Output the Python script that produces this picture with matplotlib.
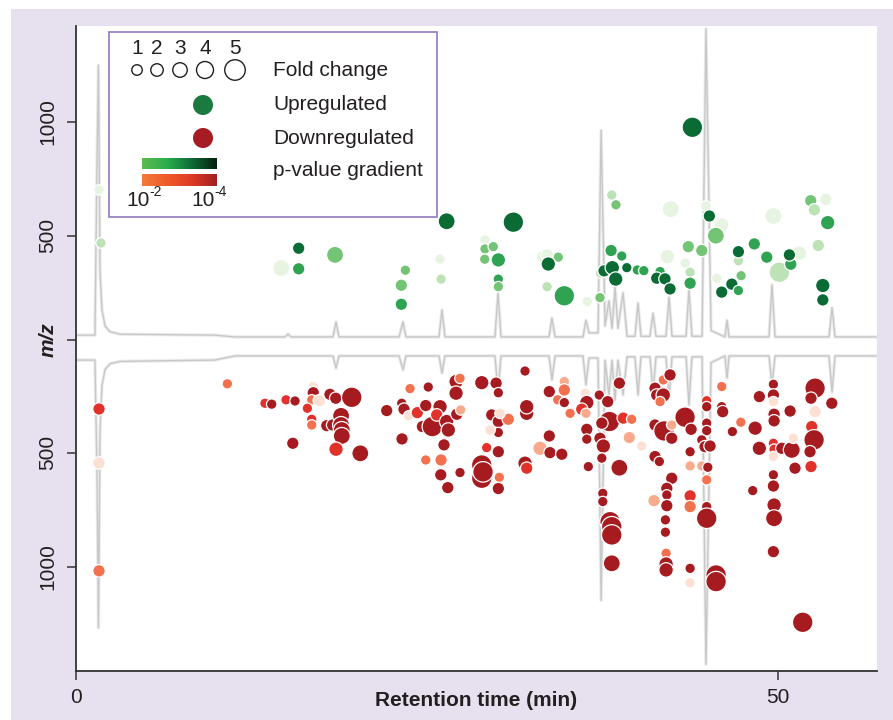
import numpy as np
import matplotlib.pyplot as plt
from matplotlib.patches import Rectangle, Circle
from matplotlib.colors import LinearSegmentedColormap

plt.rcParams['font.family'] = ['Liberation Sans', 'DejaVu Sans']

# chromatogram traces (shared time axis), top = positive, bottom = mirrored
trace_t = [0.07, 1.35, 1.50, 1.60, 1.71, 1.85, 2.07, 2.42, 3.13, 9.88, 11.32, 14.89, 15.10, 15.31,
           18.30, 18.52, 18.73, 23.01, 23.29, 23.50, 25.85, 26.07, 26.28, 29.84, 30.06, 30.27,
           33.69, 33.90, 34.12, 36.11, 36.32, 36.54, 37.18, 37.40, 37.68, 37.96, 38.18, 38.39,
           38.60, 38.96, 39.25, 39.81, 40.03, 40.24, 40.88, 41.10, 41.31, 42.02, 42.24, 42.45,
           43.45, 43.66, 43.87, 44.59, 44.87, 45.23, 46.22, 46.37, 46.51, 49.36, 49.57, 49.79,
           53.63, 53.85, 54.06, 56.98]
trace_top = [20, 20, 800, 1200, 300, 130, 60, 35, 24, 20, 12, 12, 25, 12,
             12, 78, 12, 12, 78, 12, 12, 130, 12, 12, 205, 12,
             12, 95, 12, 12, 85, 30, 30, 915, 60, 170, 50, 230,
             50, 205, 15, 15, 160, 15, 15, 115, 15, 15, 185, 15,
             15, 220, 15, 15, 1360, 40, 12, 85, 12, 12, 240, 12,
             12, 140, 12, 12]
trace_bot = [89, 89, 600, 1260, 400, 200, 130, 105, 95, 89, 71, 71, 71, 71,
             71, 124, 71, 71, 132, 71, 71, 146, 71, 71, 229, 71,
             71, 176, 71, 71, 198, 80, 80, 1140, 90, 242, 90, 264,
             90, 242, 75, 75, 242, 75, 75, 229, 75, 75, 255, 75,
             75, 286, 75, 75, 1420, 100, 71, 168, 71, 71, 198, 71,
             71, 229, 71, 71]

# upregulated features: retention time, m/z, fold change, p-value class (0 weak .. 4 strong)
up_t = [1.64, 1.78, 15.86, 15.86, 14.62, 18.45, 23.46, 23.17, 23.17, 25.93,
        26.00, 26.40, 31.15, 29.13, 29.13, 29.72, 29.11, 30.08, 30.08, 30.08,
        33.24, 33.55, 34.35, 33.64, 33.55, 34.78, 36.42, 37.32, 38.16, 38.46,
        38.11, 38.87, 37.37, 37.61, 38.20, 38.44, 39.23, 39.98, 40.44, 42.36,
        42.12, 41.60, 41.36, 41.95, 42.31, 43.90, 44.87, 45.11, 45.99, 45.57,
        43.61, 44.57, 43.38, 43.74, 43.74, 45.64, 45.99, 46.71, 47.18, 47.18,
        47.18, 47.37, 48.31, 49.20, 49.67, 50.10, 51.52, 50.91, 50.81, 52.33,
        52.59, 53.40, 53.54, 52.87, 53.19, 53.19]
up_mz = [701, 469, 446, 356, 359, 417, 350, 284, 201, 398,
         311, 564, 560, 482, 443, 453, 398, 395, 311, 278,
         409, 417, 407, 377, 278, 238, 213, 230, 679, 636,
         436, 412, 337, 347, 361, 311, 361, 351, 348, 617,
         409, 344, 315, 312, 268, 975, 631, 587, 548, 501,
         453, 436, 381, 341, 293, 315, 254, 289, 261, 391,
         431, 326, 465, 407, 587, 341, 424, 376, 417, 654,
         614, 660, 558, 458, 283, 220]
up_fc = [1, 1, 2, 2, 4, 4, 1, 2, 2, 1,
         1, 4, 5, 1, 1, 1, 1, 3, 1, 1,
         2, 2, 1, 3, 1, 5, 1, 1, 1, 1,
         2, 1, 1, 2, 3, 3, 1, 1, 1, 4,
         3, 1, 2, 2, 2, 5, 1, 2, 3, 4,
         2, 2, 1, 1, 2, 1, 2, 2, 1, 1,
         2, 1, 2, 2, 4, 5, 3, 2, 2, 2,
         2, 2, 3, 2, 3, 2]
up_sig = [0, 1, 4, 3, 0, 2, 2, 2, 3, 0,
          1, 4, 4, 0, 2, 2, 2, 3, 3, 2,
          0, 0, 2, 4, 1, 3, 0, 2, 1, 2,
          3, 3, 1, 4, 4, 4, 4, 3, 3, 0,
          0, 3, 4, 4, 4, 4, 0, 4, 0, 2,
          2, 2, 0, 1, 3, 0, 4, 4, 3, 1,
          4, 2, 3, 3, 0, 1, 0, 3, 4, 2,
          1, 0, 3, 1, 4, 4]

# downregulated features
lo_t = [1.64, 1.64, 1.64, 10.78, 13.46, 13.94, 14.96, 15.60, 15.44, 16.90,
        16.90, 16.79, 17.33, 16.48, 16.79, 16.79, 18.09, 18.50, 19.64, 17.86,
        18.28, 18.88, 18.88, 18.93, 18.93, 18.52, 20.25, 22.13, 23.22, 23.79,
        25.09, 23.20, 23.36, 23.70, 24.31, 24.91, 24.67, 25.38, 25.93, 25.69,
        26.40, 26.52, 27.12, 27.40, 27.07, 27.35, 27.07, 28.90, 29.92, 30.08,
        26.21, 26.00, 24.91, 25.98, 26.48, 27.35, 28.90, 28.90, 28.99, 30.15,
        30.08, 29.25, 30.08, 29.61, 30.08, 30.08, 30.79, 29.49, 30.20, 31.98,
        32.10, 31.98, 32.10, 32.10, 33.71, 34.78, 34.78, 34.31, 34.78, 35.19,
        33.71, 33.05, 33.76, 34.60, 36.26, 36.38, 36.02, 36.33, 37.27, 37.87,
        38.70, 37.99, 37.45, 38.98, 39.58, 36.38, 36.38, 37.32, 37.56, 37.45,
        36.49, 38.70, 39.41, 40.29, 37.52, 37.52, 38.04, 38.16, 38.16, 38.16,
        41.24, 41.83, 42.31, 41.36, 41.83, 41.60, 41.24, 41.88, 42.43, 42.43,
        41.24, 41.55, 42.43, 42.08, 42.08, 42.08, 41.17, 41.98, 41.98, 42.03,
        42.03, 42.03, 43.38, 43.81, 43.74, 43.74, 43.74, 43.74, 43.74, 43.74,
        44.57, 44.92, 44.92, 44.92, 44.92, 44.57, 44.80, 45.16, 45.00, 44.92,
        44.92, 44.92, 45.59, 45.59, 45.99, 45.99, 46.06, 46.75, 47.35, 48.20,
        48.37, 48.67, 48.67, 49.67, 49.67, 49.67, 49.72, 49.72, 49.67, 49.72,
        49.67, 49.67, 49.67, 49.72, 49.72, 49.67, 50.27, 50.86, 50.98, 51.09,
        51.21, 52.64, 52.35, 52.64, 52.40, 52.57, 52.28, 52.35, 53.83, 51.76]
lo_mz = [309, 545, 1017, 199, 284, 288, 269, 274, 459, 211,
         238, 269, 273, 306, 354, 379, 245, 262, 258, 382,
         379, 339, 379, 401, 427, 485, 503, 316, 440, 220,
         213, 284, 310, 339, 325, 294, 386, 386, 299, 335,
         364, 401, 332, 313, 189, 175, 240, 194, 196, 238,
         466, 532, 532, 597, 653, 587, 554, 612, 584, 608,
         657, 478, 496, 335, 364, 412, 354, 401, 328, 143,
         328, 546, 568, 299, 233, 189, 226, 269, 281, 328,
         427, 481, 500, 507, 240, 281, 310, 328, 248, 277,
         196, 364, 371, 349, 354, 398, 441, 437, 471, 524,
         561, 566, 434, 471, 678, 714, 802, 824, 860, 984,
         218, 182, 160, 248, 248, 277, 379, 405, 379, 437,
         517, 539, 612, 656, 685, 732, 710, 794, 848, 940,
         987, 1013, 345, 398, 496, 558, 689, 736, 1006, 1069,
         558, 273, 299, 371, 404, 444, 474, 471, 564, 619,
         736, 787, 1035, 1064, 211, 299, 321, 408, 367, 666,
         393, 255, 481, 201, 248, 277, 332, 361, 459, 485,
         517, 597, 646, 729, 787, 933, 481, 318, 488, 437,
         568, 218, 262, 321, 386, 444, 496, 561, 284, 1242]
lo_fc = [2, 2, 2, 1, 1, 1, 1, 1, 2, 1,
         2, 1, 2, 1, 1, 1, 2, 2, 5, 2,
         2, 4, 4, 4, 4, 3, 4, 2, 2, 1,
         1, 1, 2, 1, 2, 2, 2, 5, 3, 2,
         3, 3, 2, 1, 3, 1, 3, 3, 2, 1,
         2, 2, 1, 2, 2, 1, 5, 5, 5, 1,
         2, 1, 2, 2, 2, 1, 2, 1, 1, 1,
         3, 3, 2, 3, 2, 1, 2, 1, 1, 1,
         2, 3, 2, 2, 1, 3, 2, 1, 1, 2,
         2, 5, 2, 2, 1, 2, 1, 2, 3, 1,
         1, 4, 2, 1, 1, 1, 5, 5, 5, 4,
         2, 1, 2, 2, 3, 1, 2, 5, 1, 2,
         2, 1, 2, 2, 1, 2, 2, 1, 1, 1,
         3, 3, 5, 2, 1, 1, 2, 2, 1, 1,
         1, 1, 1, 1, 1, 1, 2, 2, 1, 1,
         1, 5, 5, 5, 1, 1, 2, 1, 1, 1,
         3, 2, 3, 1, 2, 1, 2, 2, 1, 1,
         1, 1, 2, 3, 4, 2, 2, 2, 4, 1,
         2, 5, 2, 2, 2, 5, 2, 2, 2, 5]
lo_sig = [3, 0, 2, 2, 3, 4, 3, 4, 4, 0,
          4, 2, 0, 3, 3, 2, 4, 4, 4, 4,
          4, 4, 4, 4, 4, 3, 4, 4, 4, 2,
          4, 4, 4, 0, 3, 4, 4, 4, 4, 3,
          4, 4, 4, 1, 4, 2, 4, 4, 4, 4,
          4, 2, 2, 4, 4, 4, 4, 4, 4, 2,
          4, 3, 4, 4, 4, 4, 2, 0, 0, 4,
          4, 4, 3, 4, 4, 1, 2, 2, 4, 2,
          4, 1, 4, 4, 0, 4, 3, 1, 4, 4,
          4, 4, 4, 3, 2, 4, 4, 4, 4, 4,
          4, 4, 1, 0, 4, 4, 4, 4, 4, 4,
          4, 2, 4, 4, 4, 2, 4, 4, 1, 4,
          4, 4, 4, 4, 4, 4, 1, 4, 4, 2,
          4, 4, 4, 4, 4, 1, 3, 2, 4, 0,
          1, 3, 4, 4, 4, 4, 4, 4, 4, 2,
          4, 4, 4, 4, 2, 4, 4, 4, 2, 4,
          4, 4, 4, 4, 4, 0, 4, 4, 3, 3,
          0, 4, 4, 4, 4, 4, 4, 4, 4, 0,
          4, 4, 4, 0, 3, 4, 4, 3, 4, 4]

green_pal = ['#e6f4e1', '#bde2b6', '#74c476', '#2fa352', '#0b6b35']
red_pal = ['#fde0d4', '#f8ab8c', '#f2714f', '#e0312a', '#a51b20']
size_px = {1: 10.5, 2: 12.5, 3: 14.5, 4: 17, 5: 20.5}

# mirrored layout: upper panel zero sits a bit below the m/z tick, lower a bit above
up_shift = -46
lo_shift = 6

fig = plt.figure(figsize=(8.93, 7.2), dpi=100)
fig.patch.set_facecolor('white')
fig.add_artist(Rectangle((11 / 893, 0), 1 - 11 / 893, 1 - 9 / 720, transform=fig.transFigure,
                         facecolor='#e6e0ef', edgecolor='none', zorder=-10))

ax = fig.add_axes([76 / 893, 1 - 671 / 720, 801 / 893, 645 / 720])
ax.set_facecolor('white')

# chromatograms (light halo for the replicate spread, then the main line)
top = np.array(trace_top)
bot = -np.array(trace_bot)
for y in (top, bot):
    ax.plot(trace_t, y, color='#ebebeb', lw=2.4, zorder=1)
    ax.plot(trace_t, y, color='#c8c8c8', lw=1.0, zorder=2)

# features
ax.scatter(up_t, np.array(up_mz) + up_shift,
           s=[(size_px[f] * 0.72) ** 2 for f in up_fc],
           c=[green_pal[k] for k in up_sig],
           edgecolors='white', linewidths=0.9, zorder=3)
ax.scatter(lo_t, -np.array(lo_mz) + lo_shift,
           s=[(size_px[f] * 0.72) ** 2 for f in lo_fc],
           c=[red_pal[k] for k in lo_sig],
           edgecolors='white', linewidths=0.9, zorder=3)

ax.set_xlim(0, 57.05)
ax.set_ylim(-1449, 1372)
for side in ['top', 'right']:
    ax.spines[side].set_visible(False)
for side in ['left', 'bottom']:
    ax.spines[side].set_color('#333333')
    ax.spines[side].set_linewidth(1.3)

ax.set_xticks([0, 50])
ax.set_xticklabels(['0', '50'])
ax.set_yticks([1000 + up_shift, 500 + up_shift, 0, -500 + lo_shift, -1000 + lo_shift])
ax.set_yticklabels(['1000', '500', 'm/z', '500', '1000'], rotation=90, va='center')
mz_lab = ax.get_yticklabels()[2]
mz_lab.set_fontweight('bold')
mz_lab.set_fontstyle('italic')
ax.tick_params(axis='both', direction='out', length=6.5, width=1.1, color='#333333',
               labelcolor='#231f20', labelsize=15)
ax.tick_params(axis='y', pad=7)
ax.tick_params(axis='x', pad=6)

ax.set_xlabel('Retention time (min)', fontsize=15, fontweight='bold', color='#231f20')
ax.xaxis.set_label_coords(0.5, -0.045)
ax.xaxis.label.set_va('center')

# legend drawn in pixel space
lax = fig.add_axes([0, 0, 1, 1], zorder=5)
lax.patch.set_alpha(0)
lax.add_patch(Rectangle((109, 32), 328, 185, facecolor='white', edgecolor='#9b85c4', lw=1.3))
leg_x = [137, 157, 180, 205, 235]
for i, x in enumerate(leg_x):
    lax.text(x, 48, str(i + 1), fontsize=15, ha='center', va='center', color='#231f20')
    lax.add_patch(Circle((x, 70), size_px[i + 1] / 2, facecolor='white', edgecolor='#231f20', lw=1))
lax.add_patch(Circle((203, 105), 10, facecolor='#1a7a40', edgecolor='none'))
lax.add_patch(Circle((203, 138), 10, facecolor='#a51d22', edgecolor='none'))
for y, txt in [(71, 'Fold change'), (105, 'Upregulated'), (138, 'Downregulated'), (171, 'p-value gradient')]:
    lax.text(273, y, txt, fontsize=15, ha='left', va='center', color='#231f20')

gcm = LinearSegmentedColormap.from_list('gr', ['#5dbb4c', '#2aae4e', '#0e6a36', '#06200f'])
rcm = LinearSegmentedColormap.from_list('rd', ['#f27b3b', '#ef5a2b', '#de3a26', '#9e1f22'])
grad = np.linspace(0, 1, 256).reshape(1, -1)
lax.imshow(grad, cmap=gcm, extent=(142, 217, 169, 158), aspect='auto', zorder=6)
lax.imshow(grad, cmap=rcm, extent=(142, 217, 186, 174), aspect='auto', zorder=6)
for x0, sup in [(126, '-2'), (191, '-4')]:
    lax.text(x0, 200, '10', fontsize=15, ha='left', va='center', color='#231f20')
    lax.text(x0 + 23, 192, sup, fontsize=10, ha='left', va='center', color='#231f20')
lax.set_xlim(0, 893)
lax.set_ylim(720, 0)
lax.axis('off')

fig.savefig('out.png', dpi=100, facecolor=fig.get_facecolor())
